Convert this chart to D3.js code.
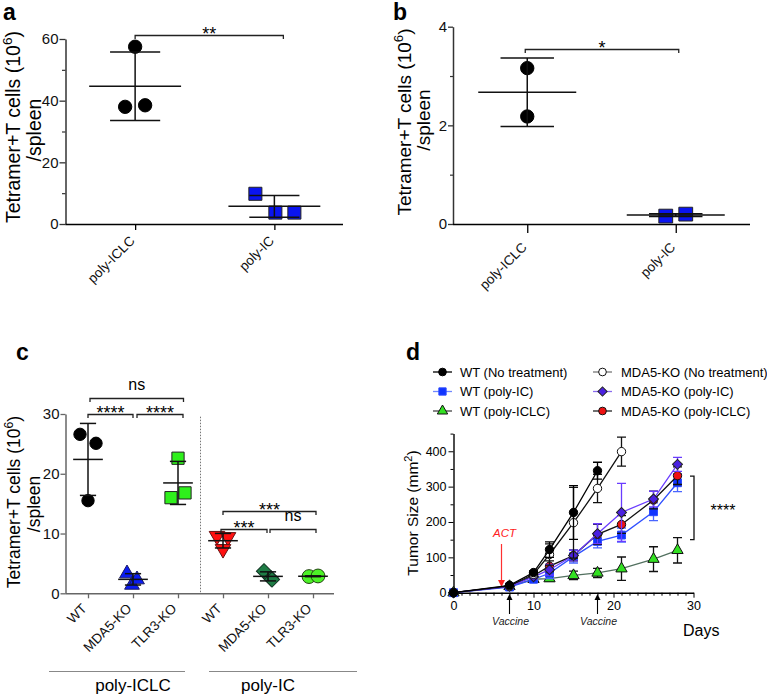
<!DOCTYPE html>
<html><head><meta charset="utf-8">
<script src="https://cdn.jsdelivr.net/npm/d3@7"></script>
<style>
body{margin:0;background:#fff}
svg{display:block}
</style></head><body><svg id="chart" width="767" height="696"></svg>
<script>
// ================= DATA =================
// Panel a
const aCategories = ["poly-ICLC", "poly-IC"];
const aValues = [[57.5, 38.0, 38.5], [9.8, 3.7, 3.7]];
const aTicks = [0, 20, 40, 60];
const aMinorTicks = [10, 30, 50];
const aSig = [{from: 0, to: 1, label: "**"}];

// Panel b
const bCategories = ["poly-ICLC", "poly-IC"];
const bValues = [[3.16, 2.18], [0.16, 0.20]];
const bTicks = [0, 2, 4];
const bMinorTicks = [1, 3];
const bSig = [{from: 0, to: 1, label: "*"}];

// Panel c
const cCategories = ["WT", "MDA5-KO", "TLR3-KO", "WT", "MDA5-KO", "TLR3-KO"];
const cGroups = ["poly-ICLC", "poly-IC"];
const cValues = [[26.6, 25.1, 15.5], [3.3, 1.4, 2.3], [22.6, 16.0, 16.8],
                 [9.6, 9.4, 7.4], [3.7, 2.5, 2.3], [2.8, 2.9]];
const cTicks = [0, 10, 20, 30];
const cSig = [{from: 0, to: 1, label: "****"}, {from: 1, to: 2, label: "****"},
              {from: 0, to: 2, label: "ns"}, {from: 3, to: 5, label: "***"},
              {from: 3, to: 4, label: "***"}, {from: 4, to: 5, label: "ns"}];

// Panel d
const dDays = [0, 7, 10, 12, 15, 18, 21, 25, 28];
const dNames = ["WT (No treatment)", "WT (poly-IC)", "WT (poly-ICLC)",
                "MDA5-KO (No treatment)", "MDA5-KO (poly-IC)", "MDA5-KO (poly-ICLC)"];
const dWTNoTreatMean   = [0, 21, 57, 122, 227, 345];
const dWTNoTreatSEM    = [0, 3, 5, 22, 76, 24];
const dWTPolyICMean    = [0, 16, 38, 55, 102, 145, 163, 229, 311];
const dWTPolyICSEM     = [0, 3, 6, 15, 18, 18, 20, 25, 25];
const dWTPolyICLCMean  = [0, 18, 38, 40, 49, 56, 68, 95, 120];
const dWTPolyICLCSEM   = [0, 3, 5, 8, 12, 13, 33, 35, 36];
const dKONoTreatMean   = [0, 19, 52, 108, 198, 295, 399];
const dKONoTreatSEM    = [0, 3, 5, 30, 100, 40, 41];
const dKOPolyICMean    = [0, 18, 45, 65, 105, 167, 227, 265, 363];
const dKOPolyICSEM     = [0, 3, 6, 15, 15, 28, 82, 22, 20];
const dKOPolyICLCMean  = [0, 18, 48, 75, 105, 165, 193, 262, 331];
const dKOPolyICLCSEM   = [0, 3, 6, 15, 15, 28, 25, 25, 25];
const dXTicks = [0, 10, 20, 30];
const dYTicks = [0, 100, 200, 300, 400];
const dEvents = [{day: 6, label: "ACT"}, {day: 7, label: "Vaccine"}, {day: 18, label: "Vaccine"}];

// ================= DRAWING =================
const FONT = '"Liberation Sans", Arial, Helvetica, sans-serif';
const svg = d3.select("#chart").attr("font-family", FONT);
const fmtInt = d3.format("d");

function symPath(type, size) {
  const t = {circle: d3.symbolCircle, square: d3.symbolSquare, triangle: d3.symbolTriangle,
             triangleDown: d3.symbolTriangle, diamond: d3.symbolSquare}[type];
  return d3.symbol().type(t).size(size)();
}
function symRot(type) { return type === "diamond" ? 45 : (type === "triangleDown" ? 180 : 0); }

function panelLetter(txt, x, y) {
  svg.append("text").attr("x", x).attr("y", y).attr("font-size", 23).attr("font-weight", "bold")
    .attr("font-family", FONT).text(txt);
}

function yLabel(g, lines, xs, cy, size, sup) {
  lines.forEach((ln, i) => {
    const t = g.append("text").attr("transform", `translate(${xs[i]},${cy[i]}) rotate(-90)`)
      .attr("text-anchor", "middle").attr("font-size", size).attr("font-family", FONT);
    if (i === 0 && sup) {
      t.append("tspan").text(ln);
      t.append("tspan").attr("dy", -size * 0.4).attr("font-size", size * 0.7).text(sup);
      t.append("tspan").attr("dy", size * 0.4).text(")");
    } else t.text(ln);
  });
}

function dotPanel(c) {
  const g = svg.append("g");
  const x = d3.scalePoint().domain(d3.range(c.labels.length)).range(c.xRange).padding(0.5);
  const y = d3.scaleLinear().domain([0, c.yMax]).range([c.y0, c.yTop]);
  const step = x.step();

  // y axis
  const gy = g.append("g").attr("transform", `translate(${c.xRange[0]},0)`)
    .call(d3.axisLeft(y).tickValues(c.ticks).tickFormat(fmtInt).tickSize(c.tickLen)
      .tickPadding(c.tickPad).tickSizeOuter(0));
  gy.select(".domain").attr("stroke", c.yAxisColor).attr("stroke-width", 1.5);
  gy.selectAll(".tick line").attr("stroke", c.yAxisColor).attr("stroke-width", 1.3);
  gy.selectAll(".tick text").attr("font-size", c.tickFont).attr("font-family", FONT).attr("fill", "#111");
  if (c.minor) {
    g.append("g").attr("transform", `translate(${c.xRange[0]},0)`)
      .call(d3.axisLeft(y).tickValues(c.minor).tickSize(c.minorLen).tickFormat("").tickSizeOuter(0))
      .call(s => { s.select(".domain").remove(); s.selectAll(".tick line").attr("stroke", c.yAxisColor).attr("stroke-width", 1.2); });
  }
  // x axis
  const gx = g.append("g").attr("transform", `translate(0,${c.y0})`)
    .call(d3.axisBottom(x).tickSize(c.xTickLen).tickFormat("").tickSizeOuter(0));
  gx.select(".domain").attr("stroke", c.xAxisColor).attr("stroke-width", 1.6)
    .attr("d", `M${c.xRange[0]},0.5H${c.xEnd}`);
  gx.selectAll(".tick line").attr("stroke", c.xAxisColor).attr("stroke-width", 1.3);
  g.selectAll(null).data(c.labels).join("text")
    .attr("transform", (d, i) => `translate(${x(i) + c.lblDx},${c.y0 + c.lblDy}) rotate(-45)`)
    .attr("text-anchor", "end").attr("font-size", c.lblFont).attr("font-family", FONT).attr("fill", "#111")
    .text(d => d);

  // points + mean/SD
  c.values.forEach((vals, i) => {
    const jit = c.jitter[i];
    vals.forEach((v, k) => {
      g.append("path").attr("d", symPath(c.shapes[i], c.sizes[i]))
        .attr("transform", `translate(${x(i) + jit[k]},${y(v)}) rotate(${symRot(c.shapes[i])})`)
        .attr("fill", c.fills[i]).attr("stroke", c.strokes[i]).attr("stroke-width", 1);
    });
    const m = d3.mean(vals), sd = d3.deviation(vals);
    const cx = x(i), mw = step * 0.33, cw = step * 0.18;
    const ec = "#111";
    g.append("line").attr("x1", cx - mw).attr("x2", cx + mw).attr("y1", y(m)).attr("y2", y(m))
      .attr("stroke", ec).attr("stroke-width", 1.5);
    g.append("line").attr("x1", cx).attr("x2", cx).attr("y1", y(m - sd)).attr("y2", y(m + sd))
      .attr("stroke", ec).attr("stroke-width", 1.5);
    [m - sd, m + sd].forEach(v => g.append("line").attr("x1", cx - cw).attr("x2", cx + cw)
      .attr("y1", y(v)).attr("y2", y(v)).attr("stroke", ec).attr("stroke-width", 1.5));
  });

  // significance brackets
  c.sig.forEach((s, j) => {
    const lv = c.sigLevels[j], dx = c.sigDx[j];
    const xa = x(s.from) + dx[0], xb = x(s.to) + dx[1], yb = Math.round(y(lv)) + 0.5;
    g.append("path").attr("d", `M${xa},${yb + 3.5}V${yb}H${xb}V${yb + 3.5}`)
      .attr("fill", "none").attr("stroke", "#222").attr("stroke-width", 1.3);
    const isStar = s.label.startsWith("*");
    g.append("text").attr("x", (xa + xb) / 2).attr("y", isStar ? yb + 4.5 : yb - 9)
      .attr("text-anchor", "middle").attr("font-size", isStar ? 18 : 16).attr("font-family", FONT)
      .text(s.label);
  });
  return {g, x, y};
}

// ---------- Panel a ----------
panelLetter("a", 3, 20);
const pa = dotPanel({
  labels: aCategories, values: aValues, xRange: [65.5, 344], xEnd: 343, yMax: 60, y0: 224, yTop: 39,
  ticks: aTicks, minor: aMinorTicks, tickLen: 6, minorLen: 3.5, tickPad: 1, tickFont: 15,
  yAxisColor: "#333", xAxisColor: "#000", xTickLen: 6, lblDx: 0.5, lblDy: 17.5, lblFont: 13.5,
  jitter: [[0, -10, 10], [-19, 1, 20]], shapes: ["circle", "square"], sizes: [140, 170],
  fills: ["#000", "#0a14f0"], strokes: ["#000", "#222"],
  sig: aSig, sigLevels: [61.4], sigDx: [[0, 9]]
});
yLabel(pa.g, ["Tetramer+T cells (10", "/spleen"], [20, 41], [127, 130], 19.5, "6");

// ---------- Panel b ----------
panelLetter("b", 393, 20);
const pb = dotPanel({
  labels: bCategories, values: bValues, xRange: [453, 750], xEnd: 750, yMax: 4, y0: 224, yTop: 26.7,
  ticks: bTicks, minor: bMinorTicks, tickLen: 5, minorLen: 3, tickPad: 1, tickFont: 15,
  yAxisColor: "#333", xAxisColor: "#000", xTickLen: 9, lblDx: 0.5, lblDy: 24, lblFont: 13.5,
  jitter: [[0, 0], [-10, 10]], shapes: ["circle", "square"], sizes: [140, 190],
  fills: ["#000", "#0a14f0"], strokes: ["#000", "#222"],
  sig: bSig, sigLevels: [3.54], sigDx: [[-2, 3]]
});
yLabel(pb.g, ["Tetramer+T cells (10", "/spleen"], [411, 430], [122, 120], 19, "6");

// ---------- Panel c ----------
panelLetter("c", 16, 360);
const pc = dotPanel({
  labels: cCategories, values: cValues, xRange: [65.5, 335.5], xEnd: 334, yMax: 30, y0: 593.3, yTop: 414,
  ticks: cTicks, minor: null, tickLen: 5, minorLen: 0, tickPad: 1, tickFont: 15,
  yAxisColor: "#666", xAxisColor: "#666", xTickLen: 5, lblDx: -0.5, lblDy: 16, lblFont: 13.5,
  jitter: [[-8, 8, 0], [-6, -1, 4], [0, -7, 7], [-6, 5, 0], [-4, 3, 4], [-4, 5]],
  shapes: ["circle", "triangle", "square", "triangleDown", "diamond", "circle"],
  sizes: [120, 95, 150, 105, 115, 150],
  fills: ["#000", "#0a1cf2", "#2ff01c", "#ff1010", "#1e7d45", "#4cf227"],
  strokes: ["#000", "#1a1a66", "#222", "#661010", "#113322", "#224411"],
  sig: cSig, sigLevels: [30.0, 30.0, 32.7, 13.7, 10.75, 10.75],
  sigDx: [[0, 0], [4, 5], [2, 5.5], [0, 3], [-2, -1], [2, 3]]
});
yLabel(pc.g, ["Tetramer+T cells (10", "/spleen"], [20, 40], [502, 504], 17.5, "6");
{
  const x = pc.x, g = pc.g;
  const sepX = (x(2) + x(3)) / 2;
  g.append("line").attr("x1", sepX).attr("x2", sepX).attr("y1", 416.7).attr("y2", 593)
    .attr("stroke", "#777").attr("stroke-width", 1).attr("stroke-dasharray", "1.5,1.5");
  const groupSpan = [[0, 2, -39, 7], [3, 5, -14, 44]];
  cGroups.forEach((name, i) => {
    const [a, b, l, r] = groupSpan[i];
    g.append("line").attr("x1", x(a) + l).attr("x2", x(b) + r).attr("y1", 671.5).attr("y2", 671.5)
      .attr("stroke", "#888").attr("stroke-width", 1.2);
    g.append("text").attr("x", (x(a) + x(b)) / 2).attr("y", 691).attr("text-anchor", "middle")
      .attr("font-size", 17).attr("font-family", FONT).text(name);
  });
}

// ---------- Panel d ----------
panelLetter("d", 406, 360);
{
  const g = svg.append("g");
  const x = d3.scaleLinear().domain([0, 30]).range([453.5, 693.5]);
  const y = d3.scaleLinear().domain([0, 450]).range([592.7, 433.6]);

  // axes
  const gy = g.append("g").attr("transform", `translate(${x(0)},0)`)
    .call(d3.axisLeft(y).tickValues(dYTicks).tickFormat(fmtInt).tickSize(5).tickPadding(2).tickSizeOuter(0));
  gy.selectAll(".tick text").attr("font-size", 12.5).attr("font-family", FONT);
  gy.select(".domain").attr("stroke-width", 1.4);
  g.append("g").attr("transform", `translate(${x(0)},0)`)
    .call(d3.axisLeft(y).tickValues(d3.range(50, 451, 100)).tickSize(3).tickFormat("").tickSizeOuter(0))
    .call(s => s.select(".domain").remove());
  const gx = g.append("g").attr("transform", `translate(0,${y(0)})`)
    .call(d3.axisBottom(x).tickValues(dXTicks).tickFormat(fmtInt).tickSize(5).tickPadding(3).tickSizeOuter(0));
  gx.selectAll(".tick text").attr("font-size", 12.5).attr("font-family", FONT);
  gx.select(".domain").attr("stroke-width", 1.4);
  g.append("g").attr("transform", `translate(0,${y(0)})`)
    .call(d3.axisBottom(x).tickValues(d3.range(1, 30).filter(v => v % 10)).tickSize(3).tickFormat("").tickSizeOuter(0))
    .call(s => s.select(".domain").remove());

  // labels
  const yl = g.append("text").attr("transform", `translate(418,513) rotate(-90)`)
    .attr("text-anchor", "middle").attr("font-size", 15.5).attr("font-family", FONT);
  yl.append("tspan").text("Tumor Size (mm");
  yl.append("tspan").attr("dy", -6).attr("font-size", 11).text("2");
  yl.append("tspan").attr("dy", 6).text(")");
  g.append("text").attr("x", 683).attr("y", 636).attr("font-size", 16).attr("font-family", FONT).text("Days");

  // events
  dEvents.forEach(ev => {
    const ex = x(ev.day);
    if (ev.label === "ACT") {
      g.append("text").attr("x", ex + 3).attr("y", 537).attr("text-anchor", "middle")
        .attr("font-size", 11.5).attr("font-style", "italic").attr("fill", "#ff2020").text(ev.label);
      g.append("line").attr("x1", ex).attr("x2", ex).attr("y1", 544).attr("y2", 581)
        .attr("stroke", "#ff3030").attr("stroke-width", 1.2);
      g.append("path").attr("d", `M${ex - 3.5},580L${ex + 3.5},580L${ex},587Z`).attr("fill", "#ff2020");
    } else {
      g.append("line").attr("x1", ex).attr("x2", ex).attr("y1", 614).attr("y2", 599)
        .attr("stroke", "#000").attr("stroke-width", 1.1);
      g.append("path").attr("d", `M${ex - 3},600L${ex + 3},600L${ex},594Z`).attr("fill", "#000");
      g.append("text").attr("x", ex + 1).attr("y", 624.5).attr("text-anchor", "middle")
        .attr("font-size", 10.5).attr("font-style", "italic").attr("fill", "#222").text(ev.label);
    }
  });

  // series
  const series = [
    {name: dNames[2], mean: dWTPolyICLCMean, sem: dWTPolyICLCSEM, shape: "triangle", size: 55,
     fill: "#33e022", stroke: "#111", line: "#52705f", err: "#111", legLine: "#444"},
    {name: dNames[1], mean: dWTPolyICMean, sem: dWTPolyICSEM, shape: "square", size: 62,
     fill: "#1034ff", stroke: "#2a48ff", line: "#3050ff", err: "#4a66ff", legLine: "#7088ff"},
    {name: dNames[5], mean: dKOPolyICLCMean, sem: dKOPolyICLCSEM, shape: "circle", size: 55,
     fill: "#ee1111", stroke: "#111", line: "#111", err: "#111", legLine: "#222"},
    {name: dNames[4], mean: dKOPolyICMean, sem: dKOPolyICSEM, shape: "diamond", size: 50,
     fill: "#4a20e0", stroke: "#222", line: "#6a3cff", err: "#6a3cff", legLine: "#8a6cef"},
    {name: dNames[3], mean: dKONoTreatMean, sem: dKONoTreatSEM, shape: "circle", size: 55,
     fill: "#fff", stroke: "#111", line: "#111", err: "#111", legLine: "#777"},
    {name: dNames[0], mean: dWTNoTreatMean, sem: dWTNoTreatSEM, shape: "circle", size: 55,
     fill: "#000", stroke: "#000", line: "#000", err: "#000", legLine: "#000"}
  ];
  const line = d3.line().x(d => x(d.day)).y(d => y(d.v));
  series.forEach(s => {
    const pts = s.mean.map((v, i) => ({day: dDays[i], v, e: s.sem[i]}));
    pts.forEach(p => {
      if (!p.e) return;
      const cx = x(p.day);
      g.append("path").attr("d",
        `M${cx},${y(p.v - p.e)}V${y(p.v + p.e)}M${cx - 4.5},${y(p.v + p.e)}H${cx + 4.5}M${cx - 4.5},${y(p.v - p.e)}H${cx + 4.5}`)
        .attr("stroke", s.err).attr("stroke-width", 1.3).attr("fill", "none");
    });
    g.append("path").datum(pts).attr("d", line).attr("fill", "none").attr("stroke", s.line).attr("stroke-width", 1.3);
    pts.forEach(p => {
      g.append("path").attr("d", symPath(s.shape, s.size))
        .attr("transform", `translate(${x(p.day)},${y(p.v)}) rotate(${symRot(s.shape)})`)
        .attr("fill", s.fill).attr("stroke", s.stroke).attr("stroke-width", 1);
    });
  });

  // significance bracket
  g.append("path").attr("d", `M690,${y(330)}H694V${y(150)}H690`).attr("fill", "none")
    .attr("stroke", "#111").attr("stroke-width", 1.3);
  g.append("text").attr("x", 723).attr("y", 516).attr("text-anchor", "middle").attr("font-size", 16)
    .attr("font-family", FONT).text("****");

  // legend
  const legOrder = [5, 1, 0, 4, 3, 2];
  const legPos = [[433, 460, 372], [433, 460, 391.5], [433, 460, 411],
                  [593, 621, 372], [593, 621, 391.5], [593, 621, 411]];
  legOrder.forEach((si, k) => {
    const s = series[si], [lx, tx, ly] = legPos[k];
    g.append("line").attr("x1", lx).attr("x2", lx + 19).attr("y1", ly).attr("y2", ly)
      .attr("stroke", s.legLine).attr("stroke-width", 1.3);
    g.append("path").attr("d", symPath(s.shape, s.size * 0.85))
      .attr("transform", `translate(${lx + 9.5},${ly}) rotate(${symRot(s.shape)})`)
      .attr("fill", s.fill).attr("stroke", s.stroke).attr("stroke-width", 1);
    g.append("text").attr("x", tx).attr("y", ly + 4.7).attr("font-size", 13).attr("font-family", FONT)
      .text(s.name);
  });
}
</script></body></html>
